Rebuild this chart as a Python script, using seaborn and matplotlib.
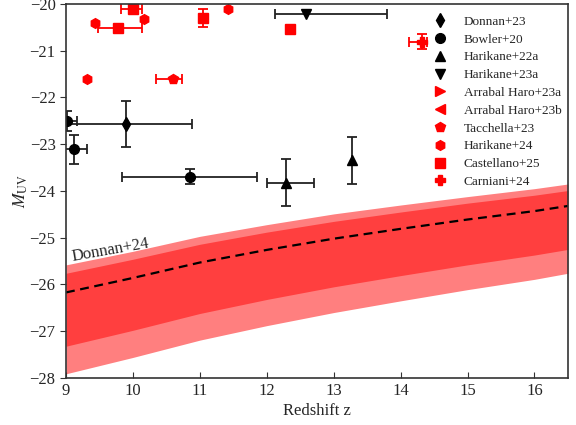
import matplotlib
matplotlib.use('Agg')

import numpy as np
import seaborn as sns
import matplotlib.pyplot as plt

# Donnan+24 model band
z_band = [9.0, 10.0, 11.0, 12.0, 13.0, 14.0, 15.0, 16.0, 16.5]
m_med = [-26.17, -25.86, -25.53, -25.26, -25.02, -24.81, -24.61, -24.43, -24.32]
m_in_top = [-25.76, -25.46, -25.14, -24.88, -24.65, -24.45, -24.26, -24.09, -23.99]
m_in_bot = [-27.32, -26.98, -26.62, -26.32, -26.05, -25.81, -25.58, -25.37, -25.25]
m_out_top = [-25.58, -25.29, -24.97, -24.72, -24.49, -24.30, -24.12, -23.95, -23.85]
m_out_bot = [-27.91, -27.56, -27.19, -26.88, -26.60, -26.35, -26.11, -25.89, -25.76]

# observed bright galaxies: z, z_lo, z_hi, M, M_err
donnan23_z = [9.89]; donnan23_zlo = [1.0]; donnan23_zhi = [1.0]
donnan23_m = [-22.57]; donnan23_me = [0.49]

bowler20_z = [9.02, 9.12, 10.85]; bowler20_zlo = [0.2, 0.2, 1.02]; bowler20_zhi = [0.14, 0.2, 1.0]
bowler20_m = [-22.50, -23.11, -23.69]; bowler20_me = [0.22, 0.31, 0.17]

harikane22_z = [12.29, 13.27]; harikane22_zlo = [0.29, 0.0]; harikane22_zhi = [0.41, 0.0]
harikane22_m = [-23.82, -23.34]; harikane22_me = [0.5, 0.5]

harikane23_z = [12.58]; harikane23_zlo = [0.46]; harikane23_zhi = [1.22]
harikane23_m = [-20.21]; harikane23_me = [0.0]

tacchella23_z = [10.60]; tacchella23_zlo = [0.25]; tacchella23_zhi = [0.14]
tacchella23_m = [-21.60]; tacchella23_me = [0.0]

harikane24_z = [9.32, 9.44, 10.17, 11.04, 11.42]
harikane24_m = [-21.61, -20.41, -20.32, -20.31, -20.10]

castellano25_z = [9.77, 10.00, 11.04, 12.34]; castellano25_zlo = [0.29, 0.18, 0.0, 0.0]
castellano25_zhi = [0.36, 0.14, 0.0, 0.0]
castellano25_m = [-20.52, -20.11, -20.30, -20.54]; castellano25_me = [0.0, 0.0, 0.2, 0.0]

carniani24_z = [14.32]; carniani24_zlo = [0.20]; carniani24_zhi = [0.08]
carniani24_m = [-20.81]; carniani24_me = [0.16]

sns.set_style('ticks')
plt.rcParams['font.family'] = ['Liberation Serif', 'DejaVu Serif']
plt.rcParams['mathtext.fontset'] = 'stix'

fig = plt.figure(figsize=(5.76, 4.25), dpi=100)
ax = fig.add_axes([0.1146, 0.1106, 0.8714, 0.88])

ax.fill_between(z_band, m_out_bot, m_out_top, color='red', alpha=0.5, lw=0)
ax.fill_between(z_band, m_in_bot, m_in_top, color='red', alpha=0.5, lw=0)
sns.lineplot(x=z_band, y=m_med, ax=ax, color='black', ls=(0, (4, 2.5)), lw=1.6)
ax.text(9.1, -25.5, 'Donnan+24', rotation=10, fontsize=12, ha='left', va='baseline',
        rotation_mode='anchor')

ekw = dict(ls='none', ms=7, capsize=3.5, elinewidth=1.3, capthick=1.3)
ax.errorbar(donnan23_z, donnan23_m, xerr=[donnan23_zlo, donnan23_zhi], yerr=donnan23_me,
            fmt='d', color='black', ecolor='#222222', **ekw)
ax.errorbar(bowler20_z, bowler20_m, xerr=[bowler20_zlo, bowler20_zhi], yerr=bowler20_me,
            fmt='o', color='black', ecolor='#222222', **ekw)
ax.errorbar(harikane22_z, harikane22_m, xerr=[harikane22_zlo, harikane22_zhi], yerr=harikane22_me,
            fmt='^', color='black', ecolor='#222222', **ekw)
ax.errorbar(harikane23_z, harikane23_m, xerr=[harikane23_zlo, harikane23_zhi],
            fmt='v', color='black', ecolor='#222222', **ekw)
ax.errorbar(tacchella23_z, tacchella23_m, xerr=[tacchella23_zlo, tacchella23_zhi],
            fmt='p', color='red', **ekw)
ax.errorbar(harikane24_z, harikane24_m, fmt='h', color='red', **ekw)
ax.errorbar(castellano25_z, castellano25_m, xerr=[castellano25_zlo, castellano25_zhi],
            yerr=castellano25_me, fmt='s', color='red', **ekw)
ax.errorbar(carniani24_z, carniani24_m, xerr=[carniani24_zlo, carniani24_zhi], yerr=carniani24_me,
            fmt='P', color='red', **ekw)

labels = ['Donnan+23', 'Bowler+20', 'Harikane+22a', 'Harikane+23a', 'Arrabal Haro+23a',
          'Arrabal Haro+23b', 'Tacchella+23', 'Harikane+24', 'Castellano+25', 'Carniani+24']
markers = ['d', 'o', '^', 'v', '>', '<', 'p', 'h', 's', 'P']
colors = ['black'] * 4 + ['red'] * 6
handles = [ax.plot([], [], ls='none', marker=m, color=c, ms=7)[0] for m, c in zip(markers, colors)]
ax.legend(handles, labels, loc='upper right', bbox_to_anchor=(1.008, 0.997), frameon=False,
          fontsize=9.5, handletextpad=0.8, labelspacing=0.42, borderaxespad=0.4)

ax.set_xlim(9, 16.5)
ax.set_ylim(-28, -20)
ax.set_xticks(range(9, 17))
ax.set_yticks(range(-28, -19))
ax.tick_params(axis='x', direction='in', labelsize=12, length=4, color='#333333')
ax.tick_params(axis='y', direction='out', labelsize=12, length=4, color='#333333')
for s in ax.spines.values():
    s.set_color('#333333')
    s.set_linewidth(1.2)
ax.set_xlabel('Redshift z', fontsize=12, labelpad=3)
ax.set_ylabel(r'$M_{\rm UV}$', fontsize=12.5, labelpad=0)

plt.savefig('out.png', dpi=100)
